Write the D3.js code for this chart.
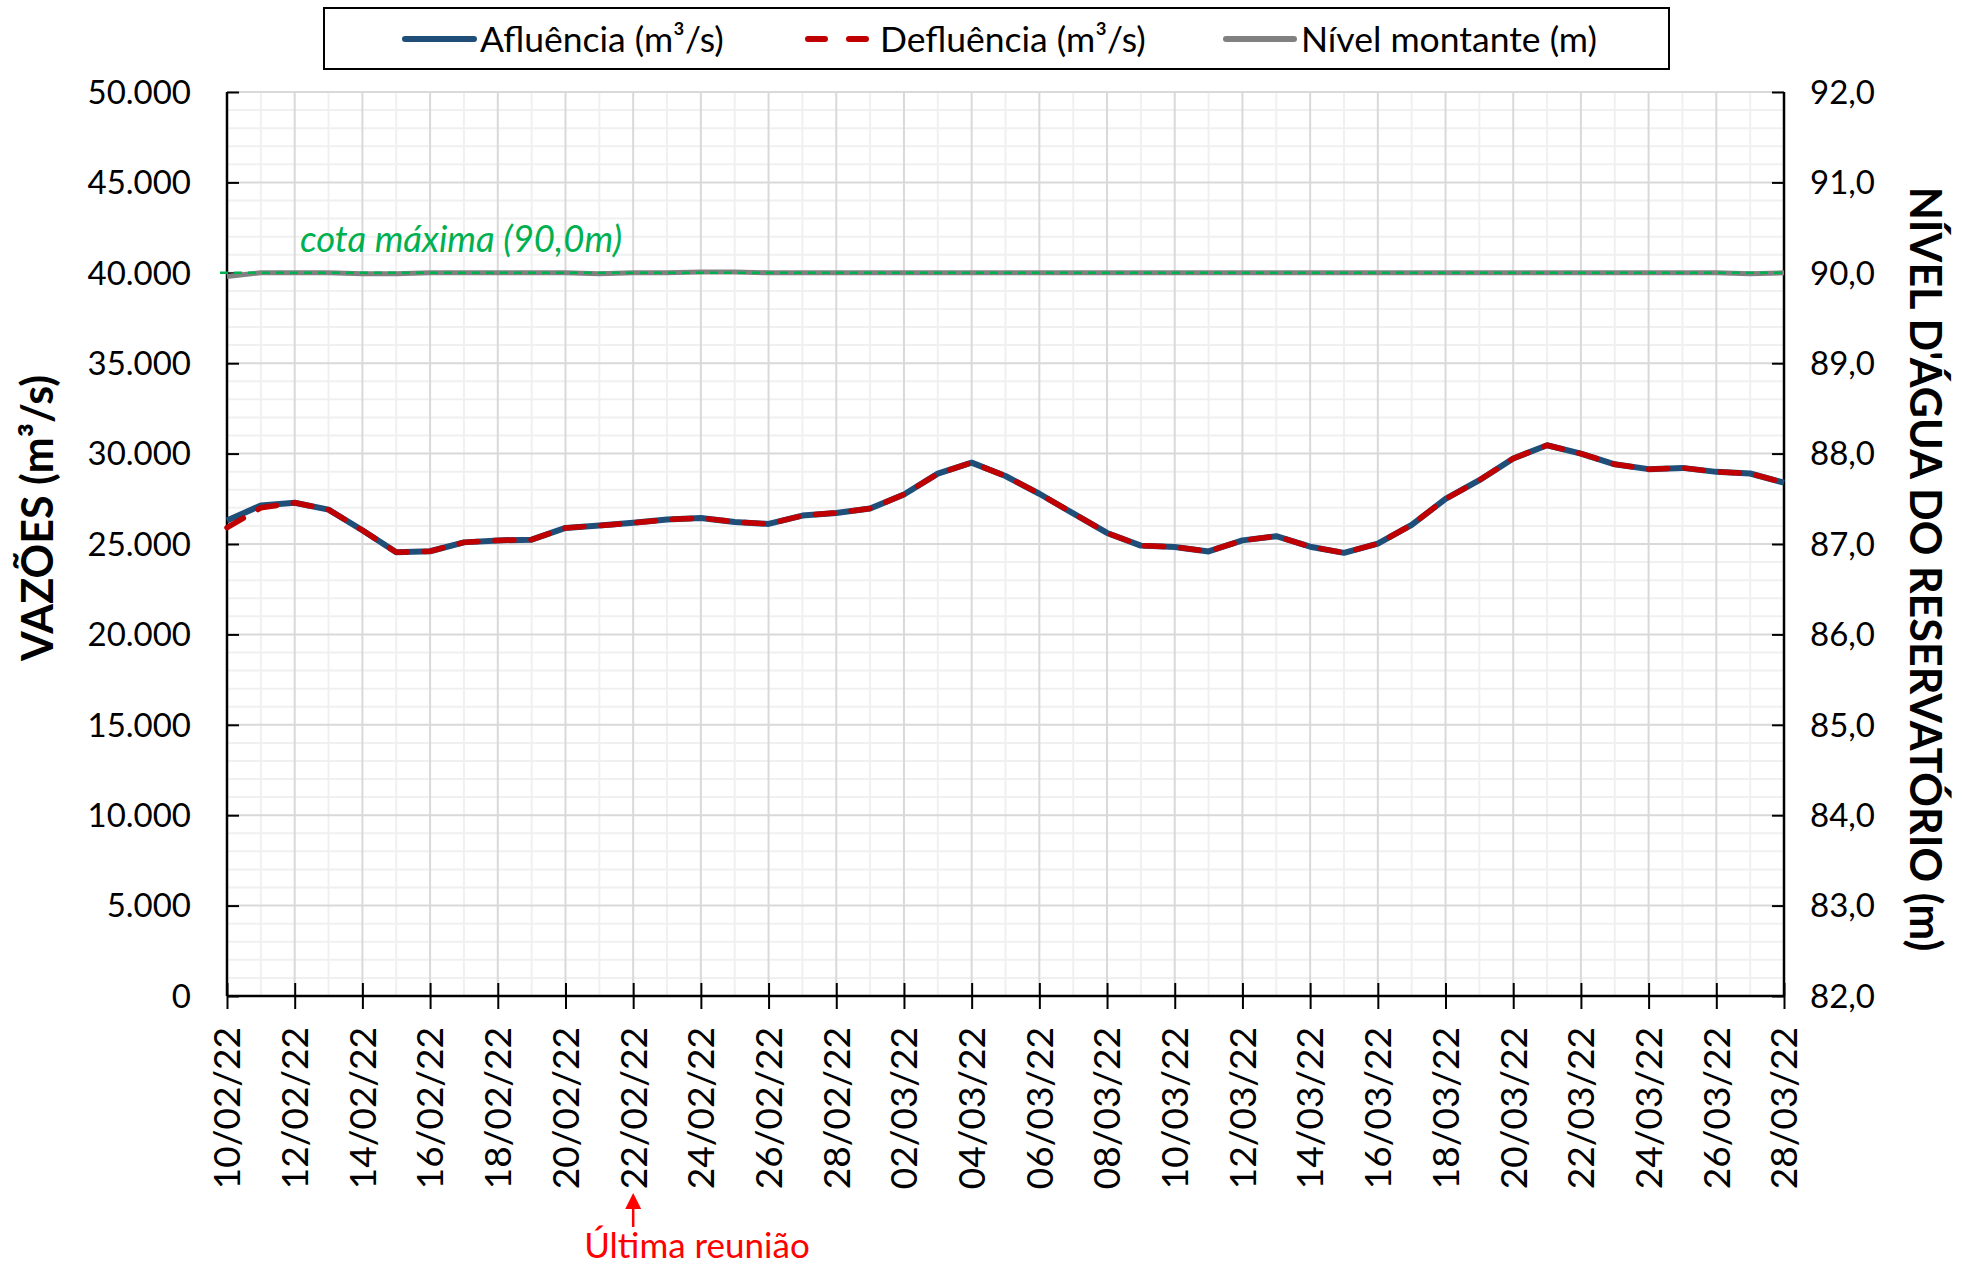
<!DOCTYPE html>
<html><head><meta charset="utf-8">
<script src="https://cdn.jsdelivr.net/npm/d3@7"></script>
<style>
html,body{margin:0;padding:0;background:#fff;}
svg{display:block;font-family:Lato,"Open Sans",sans-serif;}
</style></head>
<body><svg id="c" width="1975" height="1270"></svg>
<script>
const dates = ["10/02/22","11/02/22","12/02/22","13/02/22","14/02/22","15/02/22","16/02/22","17/02/22","18/02/22","19/02/22",
"20/02/22","21/02/22","22/02/22","23/02/22","24/02/22","25/02/22","26/02/22","27/02/22","28/02/22",
"01/03/22","02/03/22","03/03/22","04/03/22","05/03/22","06/03/22","07/03/22","08/03/22","09/03/22","10/03/22",
"11/03/22","12/03/22","13/03/22","14/03/22","15/03/22","16/03/22","17/03/22","18/03/22","19/03/22","20/03/22",
"21/03/22","22/03/22","23/03/22","24/03/22","25/03/22","26/03/22","27/03/22","28/03/22"];
const afluencia = [26300,27130,27280,26900,25760,24540,24600,25090,25200,25240,25890,26020,26170,26350,26440,26220,26110,
26570,26720,26960,27740,28890,29500,28760,27780,26690,25610,24910,24830,24590,25200,25430,24850,
24510,25020,26060,27490,28530,29730,30460,30000,29410,29140,29210,28990,28900,28390];
const defluencia = [25900,27000,27280,26900,25760,24540,24600,25090,25200,25240,25890,26020,26170,26350,26440,26220,26110,
26570,26720,26960,27740,28890,29500,28760,27780,26690,25610,24910,24830,24590,25200,25430,24850,
24510,25020,26060,27490,28530,29730,30460,30000,29410,29140,29210,28990,28900,28390];
const nivel = [89.96,90.00,90.00,90.00,89.99,89.99,90.00,90.00,90.00,90.00,90.00,89.99,90.00,90.00,90.01,90.01,90.00,
90.00,90.00,90.00,90.00,90.00,90.00,90.00,90.00,90.00,90.00,90.00,90.00,90.00,90.00,90.00,90.00,
90.00,90.00,90.00,90.00,90.00,90.00,90.00,90.00,90.00,90.00,90.00,90.00,89.99,90.00];
const cotaMaxima = 90.0;
const leftTicks = [0,5000,10000,15000,20000,25000,30000,35000,40000,45000,50000];
const leftTickLabels = ["0","5.000","10.000","15.000","20.000","25.000","30.000","35.000","40.000","45.000","50.000"];
const rightTicks = [82,83,84,85,86,87,88,89,90,91,92];
const rightTickLabels = ["82,0","83,0","84,0","85,0","86,0","87,0","88,0","89,0","90,0","91,0","92,0"];
const seriesNames = ["Afluência (m³/s)","Defluência (m³/s)","Nível montante (m)"];
const reuniaoIndex = 12;

const L=227, R=1784, T=92, B=996;
const svg = d3.select("#c");
const x = d3.scaleLinear().domain([0, dates.length-1]).range([L,R]);
const y = d3.scaleLinear().domain([0,50000]).range([B,T]);
const yR = d3.scaleLinear().domain([82,92]).range([B,T]);

// grid
const g = svg.append("g");
const minorY = d3.range(0,50001,1000).filter(v=>v%5000!==0);
g.selectAll(".mny").data(minorY).enter().append("line")
 .attr("x1",L).attr("x2",R).attr("y1",d=>y(d)).attr("y2",d=>y(d)).attr("stroke","#f0f0f0").attr("stroke-width",2);
const idx = d3.range(dates.length);
g.selectAll(".mnx").data(idx.filter(i=>i%2===1)).enter().append("line")
 .attr("x1",d=>x(d)).attr("x2",d=>x(d)).attr("y1",T).attr("y2",B).attr("stroke","#f0f0f0").attr("stroke-width",2);
g.selectAll(".mjy").data(leftTicks).enter().append("line")
 .attr("x1",L).attr("x2",R).attr("y1",d=>y(d)).attr("y2",d=>y(d)).attr("stroke","#d9d9d9").attr("stroke-width",2);
g.selectAll(".mjx").data(idx.filter(i=>i%2===0)).enter().append("line")
 .attr("x1",d=>x(d)).attr("x2",d=>x(d)).attr("y1",T).attr("y2",B).attr("stroke","#d9d9d9").attr("stroke-width",2);

// axes
const axL = svg.append("g").attr("transform",`translate(${L},0)`)
 .call(d3.axisRight(y).tickValues(leftTicks).tickFormat(()=>"").tickSizeOuter(0).tickSize(12));
axL.select(".domain").remove();
axL.selectAll(".tick line").attr("stroke","#000").attr("stroke-width",2);
svg.append("line").attr("x1",L).attr("x2",L).attr("y1",T).attr("y2",B).attr("stroke","#000").attr("stroke-width",2.5);
svg.append("g").selectAll("text").data(leftTicks).enter().append("text")
 .attr("x",191).attr("y",d=>y(d)).attr("dy","0.36em").attr("text-anchor","end")
 .attr("font-size",33).attr("fill","#000").text((d,i)=>leftTickLabels[i]);

const axR = svg.append("g").attr("transform",`translate(${R},0)`)
 .call(d3.axisLeft(yR).tickValues(rightTicks).tickFormat(()=>"").tickSizeOuter(0).tickSize(12));
axR.select(".domain").remove();
axR.selectAll(".tick line").attr("stroke","#000").attr("stroke-width",2);
svg.append("line").attr("x1",R).attr("x2",R).attr("y1",T).attr("y2",B).attr("stroke","#000").attr("stroke-width",2.5);
svg.append("g").selectAll("text").data(rightTicks).enter().append("text")
 .attr("x",1810).attr("y",d=>yR(d)).attr("dy","0.36em").attr("text-anchor","start")
 .attr("font-size",33).attr("fill","#000").text((d,i)=>rightTickLabels[i]);

// x axis
const xt = idx.filter(i=>i%2===0);
const axB = svg.append("g").attr("transform",`translate(0,${B})`)
 .call(d3.axisBottom(x).tickValues(xt).tickFormat(()=>"").tickSizeInner(13).tickSizeOuter(0));
axB.select(".domain").remove();
axB.selectAll(".tick line").attr("stroke","#000").attr("stroke-width",2).attr("y1",-13);
svg.append("line").attr("x1",L).attr("x2",R).attr("y1",B).attr("y2",B).attr("stroke","#000").attr("stroke-width",2.5);
svg.append("g").selectAll("text").data(xt).enter().append("text")
 .attr("transform",d=>`translate(${x(d)},1027) rotate(-90)`).attr("dy","0.36em").attr("text-anchor","end")
 .attr("font-size",37).attr("fill","#000").text(d=>dates[d]);

// level line
const lineL = d3.line().x((d,i)=>x(i)).y(d=>yR(d));
svg.append("path").datum(nivel).attr("d",lineL).attr("fill","none").attr("stroke","#808080").attr("stroke-width",5).attr("stroke-linejoin","round");
svg.append("line").attr("x1",L-7).attr("x2",R).attr("y1",yR(cotaMaxima)).attr("y2",yR(cotaMaxima))
 .attr("stroke","#00b050").attr("stroke-width",2.5).attr("stroke-dasharray","8,6");
svg.append("text").attr("x",300).attr("y",252).attr("font-size",36.5).attr("font-style","italic").attr("fill","#00b050").text("cota máxima (90,0m)");

// flow lines
const lineF = d3.line().x((d,i)=>x(i)).y(d=>y(d));
svg.append("path").datum(afluencia).attr("d",lineF).attr("fill","none").attr("stroke","#1f4e79").attr("stroke-width",6).attr("stroke-linejoin","round");
svg.append("path").datum(defluencia).attr("d",lineF).attr("fill","none").attr("stroke","#c00000").attr("stroke-width",5.5)
 .attr("stroke-dasharray","19,17").attr("stroke-linecap","round").attr("stroke-linejoin","round");

// axis titles
svg.append("text").attr("transform","translate(53,518) rotate(-90)").attr("text-anchor","middle")
 .attr("font-size",43).attr("font-weight","bold").attr("fill","#000").text("VAZÕES (m³/s)");
svg.append("text").attr("transform","translate(1910,569) rotate(90)").attr("text-anchor","middle")
 .attr("font-size",43).attr("font-weight","bold").attr("fill","#000").text("NÍVEL D'ÁGUA DO RESERVATÓRIO (m)");

// legend
svg.append("rect").attr("x",324).attr("y",8).attr("width",1345).attr("height",61).attr("fill","#fff").attr("stroke","#000").attr("stroke-width",2);
const legendItems = [
 {x1:405,x2:474,tx:480,color:"#1f4e79",dash:null},
 {x1:805,x2:869,tx:880,color:"#c00000",dash:"17,24"},
 {x1:1226,x2:1294,tx:1301,color:"#808080",dash:null}
];
legendItems.forEach((it,i)=>{
  const ln = svg.append("line").attr("x1",it.x1).attr("x2",it.x2).attr("y1",39).attr("y2",39)
   .attr("stroke",it.color).attr("stroke-width",6).attr("stroke-linecap","round");
  if(it.dash) ln.attr("stroke-dasharray",it.dash).attr("x1",it.x1+3).attr("x2",it.x2-3);
  svg.append("text").attr("x",it.tx).attr("y",39).attr("dy","0.36em").attr("font-size",35.5).attr("fill","#000").text(seriesNames[i]);
});

// annotation
const ax = x(reuniaoIndex);
svg.append("line").attr("x1",ax).attr("x2",ax).attr("y1",1227).attr("y2",1205).attr("stroke","#ff0000").attr("stroke-width",2.5);
svg.append("path").attr("d",`M${ax},1193 L${ax-8},1209 L${ax+8},1209 Z`).attr("fill","#ff0000");
svg.append("text").attr("x",697).attr("y",1258).attr("text-anchor","middle").attr("font-size",35).attr("fill","#ff0000").text("Última reunião");
</script></body></html>
